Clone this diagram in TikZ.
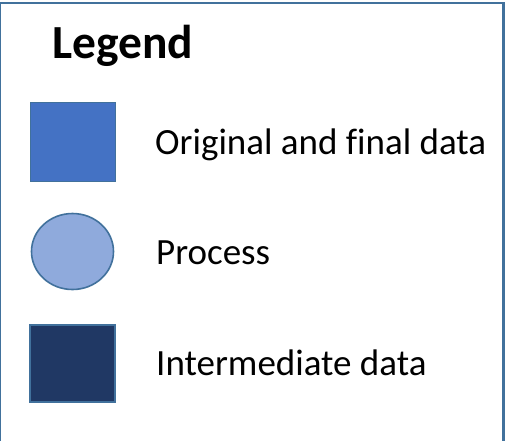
\documentclass[tikz,border=0pt]{standalone}
\usepackage{fontspec}
\setmainfont{Carlito}[Ligatures=NoCommon]
\usetikzlibrary{shapes.geometric}
\definecolor{frameblue}{HTML}{41719C}
\definecolor{datablue}{HTML}{4472C4}
\definecolor{procblue}{HTML}{8FAADC}
\definecolor{interblue}{HTML}{203864}

\begin{document}
\begin{tikzpicture}[x=1pt, y=-1pt,
    keybox/.style = {draw=frameblue, minimum width=85pt, minimum height=79pt, inner sep=0pt},
    keytext/.style = {anchor=base west, inner sep=0pt, font=\fontsize{37}{44}\selectfont}]
\useasboundingbox (0,0) rectangle (507,440);
\begin{scope}
\clip (0,0) rectangle (507,440);
\draw[frameblue, line width=2.5pt] (-0.5,3) rectangle (503.5,470);
\end{scope}
\node[anchor=base west, inner sep=0pt, font=\fontsize{47.5}{57}\selectfont\bfseries] (legend) at (52,58) {Legend};
% the three keys
\node[keybox, fill=datablue, line width=1pt] (origbox) at (72.5,141.5) {};
\node[keytext] (orig) at (155,154) {Original and final data};
\node[ellipse, draw=frameblue, fill=procblue, line width=1.6pt,
    minimum width=82pt, minimum height=76pt, inner sep=0pt] (procshape) at (72.5,251.5) {};
\node[keytext] (proc) at (156,264) {Process};
\node[keybox, fill=interblue, line width=2pt, minimum height=77pt] (interbox) at (72.5,363) {};
\node[keytext] (inter) at (156,375) {Intermediate data};
\end{tikzpicture}
\end{document}
